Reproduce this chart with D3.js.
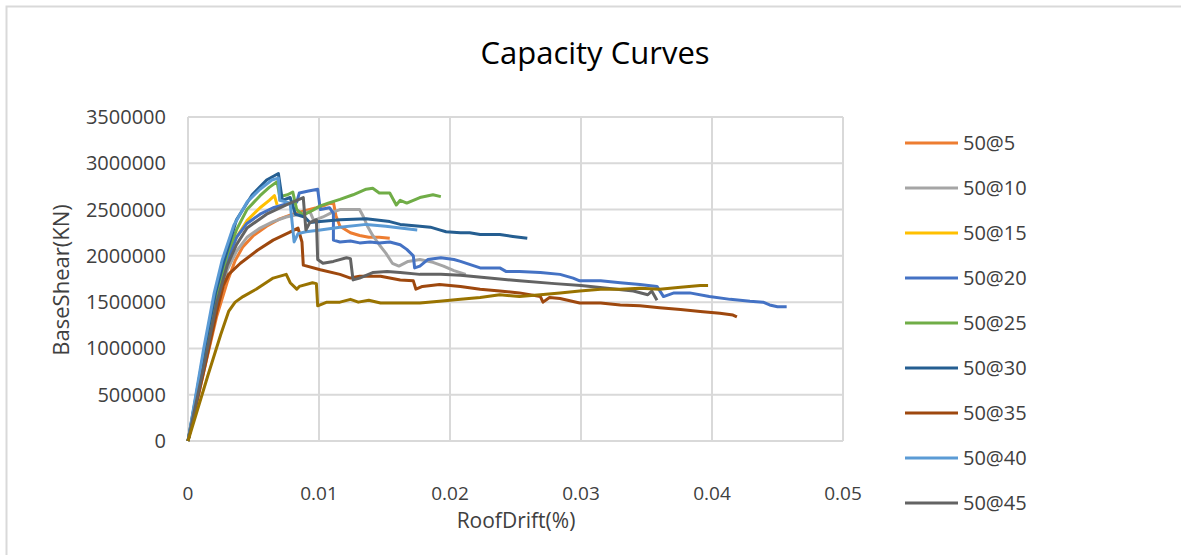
<!DOCTYPE html>
<html>
<head>
<meta charset="utf-8">
<script src="https://cdn.jsdelivr.net/npm/d3@7"></script>
<style>
  body { margin: 0; background: #fff; }
  text { font-family: "Open Sans", "Noto Sans", sans-serif; fill: #404040; }
</style>
</head>
<body>
<div id="chart"></div>
<script>
// series labels (10th one is cut off in the legend of the original)
var names = ["50@5", "50@10", "50@15", "50@20", "50@25", "50@30", "50@35", "50@40", "50@45", "50@50"];
var colors = ["#ED7D31", "#A5A5A5", "#FFC000", "#4472C4", "#70AD47", "#255E91", "#9E480E", "#5B9BD5", "#636363", "#997300"];

var xTicks = [0, 0.01, 0.02, 0.03, 0.04, 0.05];
var yTicks = [0, 500000, 1000000, 1500000, 2000000, 2500000, 3000000, 3500000];

// [roof drift, base shear]
var curve5 = [[0,0],[0.0012,0.75e6],[0.0022,1.35e6],[0.003,1.72e6],[0.0036,1.95e6],[0.0042,2.1e6],[0.005,2.22e6],[0.006,2.32e6],[0.007,2.4e6],[0.008,2.45e6],[0.009,2.49e6],[0.0098,2.52e6],[0.0105,2.55e6],[0.0111,2.58e6],[0.0113,2.43e6],[0.0116,2.32e6],[0.0124,2.25e6],[0.0131,2.22e6],[0.0138,2.2e6],[0.0146,2.2e6],[0.0154,2.19e6]];
var curve10 = [[0,0],[0.0012,0.8e6],[0.0022,1.45e6],[0.003,1.85e6],[0.0037,2.05e6],[0.0045,2.2e6],[0.0055,2.3e6],[0.0065,2.37e6],[0.0075,2.42e6],[0.0085,2.45e6],[0.0093,2.48e6],[0.0096,2.38e6],[0.0103,2.42e6],[0.011,2.47e6],[0.0116,2.5e6],[0.0124,2.5e6],[0.0131,2.5e6],[0.0134,2.42e6],[0.0137,2.32e6],[0.0141,2.22e6],[0.0146,2.12e6],[0.0151,2.03e6],[0.0156,1.92e6],[0.0161,1.89e6],[0.0168,1.94e6],[0.0177,1.96e6],[0.0187,1.93e6],[0.0195,1.89e6],[0.0203,1.84e6],[0.0212,1.8e6]];
var curve15 = [[0,0],[0.0012,0.85e6],[0.0022,1.55e6],[0.003,1.98e6],[0.0037,2.2e6],[0.0045,2.38e6],[0.0055,2.52e6],[0.0062,2.6e6],[0.0066,2.65e6],[0.0068,2.55e6]];
var curve20 = [[0,0],[0.0012,0.85e6],[0.0022,1.55e6],[0.003,1.95e6],[0.0037,2.2e6],[0.0045,2.35e6],[0.0055,2.45e6],[0.0065,2.52e6],[0.0075,2.56e6],[0.0083,2.58e6],[0.0085,2.68e6],[0.0092,2.7e6],[0.0099,2.72e6],[0.0101,2.5e6],[0.0108,2.52e6],[0.0111,2.46e6],[0.0111,2.17e6],[0.0116,2.15e6],[0.0124,2.16e6],[0.0131,2.14e6],[0.0139,2.15e6],[0.0146,2.14e6],[0.0154,2.15e6],[0.0162,2.12e6],[0.0167,2.07e6],[0.0172,2.0e6],[0.0173,1.87e6],[0.0177,1.89e6],[0.0183,1.96e6],[0.0193,1.98e6],[0.0203,1.96e6],[0.0208,1.94e6],[0.0223,1.87e6],[0.0238,1.87e6],[0.0243,1.83e6],[0.0253,1.83e6],[0.0269,1.82e6],[0.0284,1.8e6],[0.0294,1.76e6],[0.0299,1.73e6],[0.0315,1.73e6],[0.033,1.71e6],[0.0345,1.69e6],[0.0358,1.67e6],[0.0363,1.56e6],[0.0371,1.6e6],[0.0383,1.6e6],[0.0398,1.56e6],[0.0414,1.53e6],[0.0429,1.51e6],[0.0439,1.5e6],[0.0444,1.47e6],[0.045,1.45e6],[0.0457,1.45e6]];
var curve25 = [[0,0],[0.0012,0.9e6],[0.0022,1.6e6],[0.003,2.02e6],[0.0037,2.28e6],[0.0045,2.5e6],[0.0055,2.65e6],[0.0062,2.74e6],[0.0068,2.8e6],[0.007,2.64e6],[0.0076,2.66e6],[0.008,2.69e6],[0.0083,2.5e6],[0.0088,2.44e6],[0.0095,2.49e6],[0.0101,2.54e6],[0.0107,2.57e6],[0.0116,2.61e6],[0.0126,2.66e6],[0.0136,2.72e6],[0.0141,2.73e6],[0.0146,2.68e6],[0.0154,2.68e6],[0.0159,2.55e6],[0.0162,2.6e6],[0.0167,2.57e6],[0.0177,2.63e6],[0.0187,2.66e6],[0.0193,2.64e6]];
var curve30 = [[0,0],[0.0012,0.95e6],[0.0021,1.6e6],[0.0027,1.92e6],[0.0037,2.39e6],[0.0049,2.66e6],[0.006,2.82e6],[0.0069,2.89e6],[0.0072,2.6e6],[0.0078,2.63e6],[0.0082,2.45e6],[0.0089,2.42e6],[0.0093,2.36e6],[0.0101,2.37e6],[0.0116,2.39e6],[0.0136,2.4e6],[0.0154,2.37e6],[0.0162,2.34e6],[0.0177,2.32e6],[0.0185,2.31e6],[0.0192,2.28e6],[0.0197,2.26e6],[0.0208,2.25e6],[0.0215,2.25e6],[0.0223,2.23e6],[0.0238,2.23e6],[0.0248,2.21e6],[0.0259,2.19e6]];
var curve35 = [[0,0],[0.0012,0.75e6],[0.0022,1.4e6],[0.0027,1.68e6],[0.0031,1.8e6],[0.004,1.92e6],[0.0053,2.06e6],[0.0065,2.17e6],[0.0077,2.25e6],[0.0084,2.3e6],[0.0087,2.15e6],[0.0088,1.9e6],[0.0101,1.85e6],[0.0116,1.8e6],[0.0124,1.76e6],[0.0131,1.78e6],[0.0147,1.78e6],[0.0162,1.74e6],[0.0172,1.73e6],[0.0174,1.64e6],[0.0179,1.67e6],[0.0192,1.69e6],[0.0208,1.67e6],[0.0223,1.64e6],[0.0238,1.62e6],[0.0253,1.6e6],[0.0269,1.56e6],[0.0271,1.5e6],[0.0276,1.55e6],[0.0284,1.54e6],[0.0299,1.49e6],[0.0315,1.49e6],[0.033,1.47e6],[0.0345,1.46e6],[0.036,1.44e6],[0.0376,1.42e6],[0.0391,1.4e6],[0.0406,1.38e6],[0.0416,1.36e6],[0.0419,1.34e6]];
var curve40 = [[0,0],[0.0012,1.0e6],[0.002,1.6e6],[0.0026,1.95e6],[0.0035,2.33e6],[0.0045,2.58e6],[0.0055,2.72e6],[0.0064,2.82e6],[0.0069,2.84e6],[0.007,2.6e6],[0.0078,2.57e6],[0.0081,2.15e6],[0.0084,2.24e6],[0.009,2.26e6],[0.0101,2.28e6],[0.0116,2.31e6],[0.0136,2.34e6],[0.0151,2.32e6],[0.0162,2.3e6],[0.0175,2.28e6]];
var curve45 = [[0,0],[0.0012,0.8e6],[0.0022,1.5e6],[0.003,1.9e6],[0.0037,2.12e6],[0.0045,2.3e6],[0.006,2.45e6],[0.0075,2.55e6],[0.0088,2.63e6],[0.009,2.28e6],[0.0093,2.36e6],[0.0098,2.39e6],[0.0099,1.96e6],[0.0103,1.92e6],[0.0111,1.94e6],[0.0121,1.98e6],[0.0124,1.97e6],[0.0126,1.74e6],[0.0131,1.76e6],[0.0141,1.82e6],[0.0152,1.83e6],[0.0162,1.82e6],[0.0177,1.8e6],[0.0193,1.8e6],[0.0208,1.79e6],[0.023,1.76e6],[0.0253,1.73e6],[0.028,1.7e6],[0.03,1.68e6],[0.032,1.65e6],[0.034,1.62e6],[0.0351,1.58e6],[0.0354,1.62e6],[0.0358,1.52e6]];
var curve50 = [[0,0],[0.0015,0.7e6],[0.0025,1.15e6],[0.0031,1.4e6],[0.0036,1.5e6],[0.0042,1.56e6],[0.0052,1.64e6],[0.0065,1.76e6],[0.0075,1.8e6],[0.0078,1.71e6],[0.0083,1.64e6],[0.0085,1.67e6],[0.0095,1.71e6],[0.0098,1.7e6],[0.0099,1.46e6],[0.0106,1.5e6],[0.0116,1.5e6],[0.0124,1.53e6],[0.013,1.5e6],[0.0138,1.52e6],[0.0147,1.49e6],[0.0162,1.49e6],[0.0177,1.49e6],[0.0192,1.51e6],[0.0208,1.53e6],[0.0223,1.55e6],[0.0238,1.58e6],[0.0253,1.56e6],[0.0269,1.58e6],[0.0284,1.6e6],[0.0299,1.62e6],[0.0315,1.64e6],[0.033,1.64e6],[0.0345,1.65e6],[0.036,1.64e6],[0.0376,1.66e6],[0.0391,1.68e6],[0.0397,1.68e6]];

var curves = [curve5, curve10, curve15, curve20, curve25, curve30, curve35, curve40, curve45, curve50];

function init() {
    const w = 1181;
    const h = 555;
    const left = 188, right = 843, top = 117, bottom = 441;

    var svg = d3.select("#chart")
        .append("svg")
        .attr("width", w)
        .attr("height", h);

    // chart border
    svg.append("rect")
        .attr("x", 6.5).attr("y", 6.5)
        .attr("width", w).attr("height", h)
        .attr("fill", "none")
        .attr("stroke", "#d9d9d9")
        .attr("stroke-width", 2);

    var xScale = d3.scaleLinear().domain([0, 0.05]).range([left, right]);
    var yScale = d3.scaleLinear().domain([0, 3500000]).range([bottom, top]);

    // gridlines
    svg.append("g").selectAll("line")
        .data(yTicks)
        .enter().append("line")
        .attr("x1", left).attr("x2", right)
        .attr("y1", d => yScale(d)).attr("y2", d => yScale(d))
        .attr("stroke", "#d9d9d9").attr("stroke-width", 2);

    svg.append("g").selectAll("line")
        .data(xTicks)
        .enter().append("line")
        .attr("x1", d => xScale(d)).attr("x2", d => xScale(d))
        .attr("y1", top).attr("y2", bottom)
        .attr("stroke", "#d9d9d9").attr("stroke-width", 2);

    // tick labels
    svg.append("g").selectAll("text")
        .data(yTicks)
        .enter().append("text")
        .attr("x", 166)
        .attr("y", d => yScale(d))
        .attr("dy", "0.35em")
        .attr("text-anchor", "end")
        .style("font-size", "20px")
        .text(d => d);

    svg.append("g").selectAll("text")
        .data(xTicks)
        .enter().append("text")
        .attr("x", d => xScale(d))
        .attr("y", 500)
        .attr("text-anchor", "middle")
        .style("font-size", "19px")
        .text(d => d);

    // titles
    svg.append("text")
        .attr("x", 595).attr("y", 64)
        .attr("text-anchor", "middle")
        .style("font-size", "31px")
        .style("fill", "#000")
        .text("Capacity Curves");

    svg.append("text")
        .attr("transform", "translate(69,280) rotate(-90)")
        .attr("text-anchor", "middle")
        .style("font-size", "22px")
        .text("BaseShear(KN)");

    svg.append("text")
        .attr("x", 516).attr("y", 528)
        .attr("text-anchor", "middle")
        .style("font-size", "21px")
        .text("RoofDrift(%)");

    // curves
    var line = d3.line()
        .x(d => xScale(d[0]))
        .y(d => yScale(d[1]));

    svg.append("g").selectAll("path")
        .data(curves)
        .enter().append("path")
        .attr("d", line)
        .attr("fill", "none")
        .attr("stroke", (d, i) => colors[i])
        .attr("stroke-width", 3)
        .attr("stroke-linejoin", "round");

    // legend - only 9 entries fit in the box
    var legend = svg.append("g").selectAll("g")
        .data(names.slice(0, 9))
        .enter().append("g")
        .attr("transform", (d, i) => "translate(905," + (143 + i * 45) + ")");

    legend.append("line")
        .attr("x1", 0).attr("x2", 53)
        .attr("stroke", (d, i) => colors[i])
        .attr("stroke-width", 3);

    legend.append("text")
        .attr("x", 58)
        .attr("dy", "0.35em")
        .style("font-size", "20px")
        .text(d => d);
}
window.onload = init();
</script>
</body>
</html>
